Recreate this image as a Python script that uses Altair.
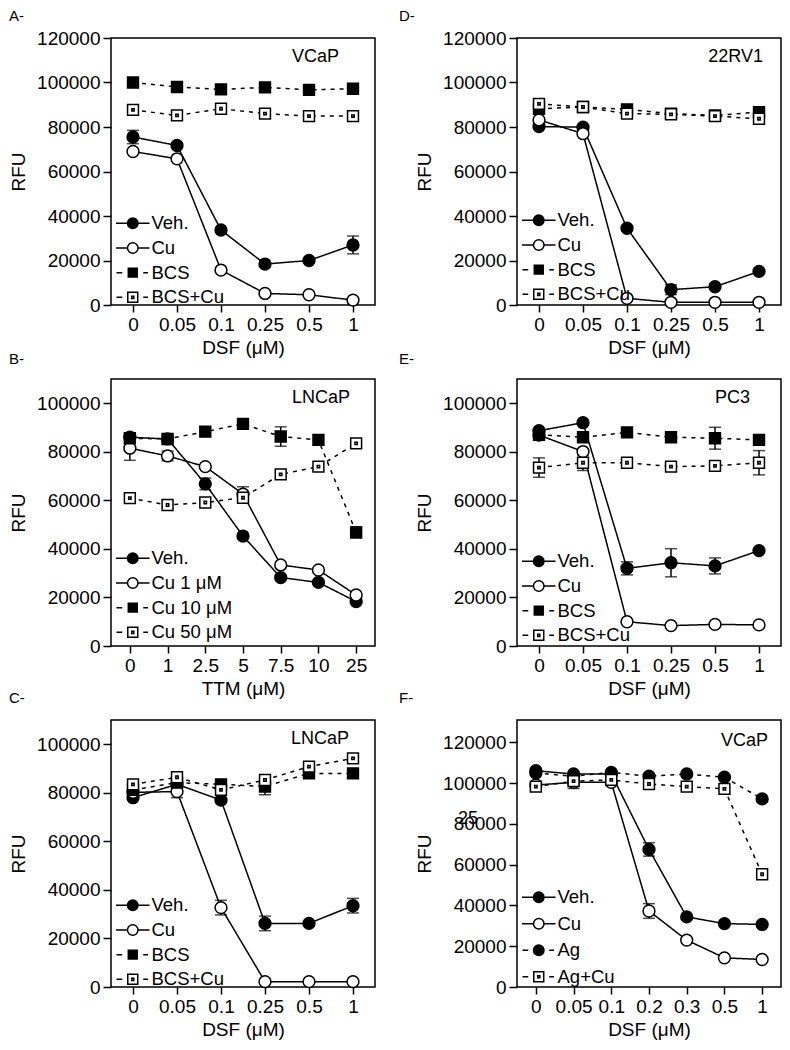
import altair as alt
import pandas as pd

FONT = "Liberation Sans"

# ---------------- data ----------------
DSF6 = ["0", "0.05", "0.1", "0.25", "0.5", "1"]
TTM7 = ["0", "1", "2.5", "5", "7.5", "10", "25"]
DSF7 = ["0", "0.05", "0.1", "0.2", "0.3", "0.5", "1"]

NAMES_BCS = ["Veh.", "Cu", "BCS", "BCS+Cu"]
NAMES_TTM = ["Veh.", "Cu 1 \u03bcM", "Cu 10 \u03bcM", "Cu 50 \u03bcM"]
NAMES_AG = ["Veh.", "Cu", "Ag", "Ag+Cu"]

# A - VCaP
A_veh = [75500, 71700, 33700, 18400, 20000, 27000]
A_cu = [69000, 65700, 15700, 5200, 4600, 2200]
A_bcs = [100000, 98000, 96900, 97800, 96700, 97200]
A_bcscu = [87700, 85200, 88200, 86000, 84900, 84900]
A_veh_err = [3000, 0, 0, 0, 0, 4000]
A_cu_err = [0, 0, 0, 0, 0, 0]
A_bcs_err = [0, 0, 0, 0, 0, 0]
A_bcscu_err = [0, 0, 0, 0, 0, 0]

# D - 22RV1
D_veh = [80200, 79900, 34500, 6900, 8200, 15100]
D_cu = [83200, 77000, 3000, 1200, 1200, 1200]
D_bcs = [88200, 89000, 87900, 86000, 85200, 86700]
D_bcscu = [90400, 89000, 86000, 85700, 84900, 83700]
D_veh_err = [0, 0, 0, 2200, 0, 0]
D_cu_err = [0, 0, 0, 0, 0, 0]
D_bcs_err = [0, 0, 0, 0, 0, 0]
D_bcscu_err = [0, 0, 0, 0, 0, 0]

# B - LNCaP, TTM
B_veh = [86000, 85300, 66800, 45300, 28200, 26200, 18300]
B_cu1 = [81500, 78300, 73900, 62600, 33400, 31300, 21000]
B_cu10 = [85600, 85300, 88300, 91500, 86300, 84900, 46800]
B_cu50 = [60900, 58100, 59100, 61100, 70700, 73900, 83500]
B_veh_err = [0, 0, 2400, 0, 0, 0, 0]
B_cu1_err = [5000, 2000, 0, 3000, 0, 0, 0]
B_cu10_err = [2000, 0, 0, 2000, 4000, 0, 2300]
B_cu50_err = [0, 0, 0, 0, 0, 0, 0]

# E - PC3
E_veh = [88700, 92000, 32000, 34300, 33000, 39300]
E_cu = [86900, 80100, 10000, 8400, 8900, 8700]
E_bcs = [87000, 86000, 88000, 86000, 85600, 84900]
E_bcscu = [73500, 75500, 75500, 73900, 74200, 75500]
E_veh_err = [0, 0, 2700, 5800, 3300, 0]
E_cu_err = [0, 0, 0, 0, 0, 0]
E_bcs_err = [0, 0, 0, 0, 4500, 0]
E_bcscu_err = [4000, 3200, 0, 0, 0, 5000]

# C - LNCaP, DSF
C_veh = [78000, 83500, 77000, 26200, 26200, 33500]
C_cu = [80200, 80500, 32700, 2200, 2200, 2200]
C_bcs = [81200, 84200, 83500, 82600, 88000, 88000]
C_bcscu = [83500, 86400, 81200, 85300, 90800, 94200]
C_veh_err = [0, 0, 0, 3000, 0, 3000]
C_cu_err = [0, 2500, 3000, 0, 0, 0]
C_bcs_err = [0, 0, 0, 3400, 0, 0]
C_bcscu_err = [0, 0, 0, 0, 0, 0]

# F - VCaP, Ag
F_veh = [106100, 104500, 104500, 67500, 34400, 31100, 30700]
F_cu = [99100, 100400, 100400, 37300, 23000, 14300, 13500]
F_ag = [105000, 103400, 105300, 103400, 104500, 102900, 92300]
F_agcu = [98300, 101000, 101600, 99600, 98300, 97200, 55300]
F_veh_err = [0, 0, 0, 3300, 0, 0, 0]
F_cu_err = [0, 3000, 0, 3600, 0, 0, 0]
F_ag_err = [0, 0, 0, 0, 0, 0, 0]
F_agcu_err = [0, 0, 0, 0, 0, 0, 0]

# ---------------- symbols ----------------
SQ = "M-0.92,-0.92H0.92V0.92H-0.92Z"
SQDOT = "M-0.92,-0.92H0.92V0.92H-0.92Z M-0.2,-0.2H0.2V0.2H-0.2Z"
CIRC_U = "M-1,0A1,1,0,1,0,1,0A1,1,0,1,0,-1,0Z"
LEG_SOLID_CIRC = "M-3.2,0H-1M1,0H3.2" + CIRC_U
LEG_DASH_CIRC = "M-3.1,0H-2M2,0H2.9" + CIRC_U
LEG_DASH_SQ = "M-3.1,0H-2M2,0H2.9M-0.85,-0.85H0.85V0.85H-0.85Z"
LEG_DASH_SQDOT = "M-3.1,0H-2M2,0H2.9M-0.95,-0.95H0.95V0.95H-0.95Z M-0.2,-0.2H0.2V0.2H-0.2Z"

KIND = {
    "fc": ("circle", "black"),
    "oc": ("circle", "white"),
    "fs": (SQ, "black"),
    "os": (SQDOT, "white"),
}
LEGPATH = {
    "fc_solid": LEG_SOLID_CIRC,
    "oc_solid": LEG_SOLID_CIRC,
    "fc_dash": LEG_DASH_CIRC,
    "fs_dash": LEG_DASH_SQ,
    "os_dash": LEG_DASH_SQDOT,
}

W, H = 264, 267


def make_panel(cats, names, vals, errs, kinds, ymax, yticks, xtitle, cell,
               cell_dx, cell_y, label, label_dx, label_off, leg_y, leg_pad=5.7):
    rows = []
    for nm, vs, es in zip(names, vals, errs):
        for i, (c, v, e) in enumerate(zip(cats, vs, es)):
            rows.append(dict(x=c, idx=i, series=nm, value=v, err=e,
                             lo=v - e, hi=v + e))
    df = pd.DataFrame(rows)
    dashes = [[1, 0], [1, 0], [4, 5], [4, 5]]
    shapes = [KIND[k][0] for k in kinds]
    fills = [KIND[k][1] for k in kinds]
    legpaths = [LEGPATH[k + ("_solid" if j < 2 else "_dash")]
                for j, k in enumerate(kinds)]

    xenc = alt.X("x:N", sort=cats, scale=alt.Scale(type="point", padding=0.5),
                 axis=alt.Axis(title=xtitle, labelAngle=0))
    yscale = alt.Scale(domain=[0, ymax], nice=False, zero=True)
    yenc = alt.Y("value:Q", scale=yscale,
                 axis=alt.Axis(title="RFU", values=yticks, format="d"))

    base = alt.Chart(df)
    lines = base.mark_line(color="black", strokeWidth=1.5).encode(
        x=xenc, y=yenc, detail="series:N", order="idx:Q",
        strokeDash=alt.StrokeDash("series:N",
                                  scale=alt.Scale(domain=names, range=dashes),
                                  legend=None),
    )
    errd = base.transform_filter("datum.err > 0")
    rule = errd.mark_rule(color="black", strokeWidth=1.5).encode(
        x=alt.X("x:N", sort=cats), y=alt.Y("lo:Q", scale=yscale), y2="hi:Q")
    cap_lo = errd.mark_tick(color="black", size=12, thickness=1.5).encode(
        x=alt.X("x:N", sort=cats), y=alt.Y("lo:Q", scale=yscale))
    cap_hi = errd.mark_tick(color="black", size=12, thickness=1.5).encode(
        x=alt.X("x:N", sort=cats), y=alt.Y("hi:Q", scale=yscale))
    pts = base.mark_point(filled=True, stroke="black", strokeWidth=1.5,
                          size=140, opacity=1, fillOpacity=1).encode(
        x=alt.X("x:N", sort=cats), y=alt.Y("value:Q", scale=yscale),
        shape=alt.Shape("series:N", scale=alt.Scale(domain=names, range=shapes),
                        legend=None),
        fill=alt.Fill("series:N", scale=alt.Scale(domain=names, range=fills),
                      legend=None),
    )
    leg = alt.Legend(orient="none", legendX=12.5, legendY=leg_y, title=None,
                     labelFont=FONT, labelFontSize=18.5, labelColor="black",
                     symbolSize=110, symbolStrokeColor="black",
                     symbolStrokeWidth=1.5, labelOffset=9.5, rowPadding=leg_pad,
                     padding=0, symbolOffset=0)
    legend_layer = base.transform_filter("false").mark_point(
        filled=True, strokeWidth=1.5, opacity=1).encode(
        shape=alt.Shape("series:N", scale=alt.Scale(domain=names, range=legpaths),
                        legend=leg),
        fill=alt.Fill("series:N", scale=alt.Scale(domain=names, range=fills),
                      legend=leg),
        stroke=alt.Stroke("series:N",
                          scale=alt.Scale(domain=names, range=["black"] * 4),
                          legend=leg),
    )
    cell_df = pd.DataFrame({"t": [cell]})
    cell_txt = alt.Chart(cell_df).mark_text(
        font=FONT, fontSize=18, align="right", baseline="alphabetic",
        color="black").encode(x=alt.value(W + cell_dx), y=alt.value(cell_y),
                              text="t:N")
    layers = [lines, rule, cap_lo, cap_hi, pts, cell_txt]
    if label == "F-":
        art = alt.Chart(pd.DataFrame({"t": ["25"]})).mark_text(
            font=FONT, fontSize=18, align="center", baseline="alphabetic",
            color="black").encode(x=alt.value(-49), y=alt.value(104), text="t:N")
        layers.append(art)
    layers.append(legend_layer)
    return alt.layer(*layers).resolve_scale(
        shape="independent", fill="independent", strokeDash="independent",
        stroke="independent"
    ).properties(
        width=W, height=H,
        title=alt.TitleParams(text=label, anchor="start", frame="group",
                              dx=label_dx, offset=label_off, fontSize=15,
                              fontWeight="normal", font=FONT, color="black"),
    )


T120 = [0, 20000, 40000, 60000, 80000, 100000, 120000]
T100 = [0, 20000, 40000, 60000, 80000, 100000]
K4 = ["fc", "oc", "fs", "os"]
KF = ["fc", "oc", "fc", "os"]
DSF_T = "DSF (\u03bcM)"
TTM_T = "TTM (\u03bcM)"

pA = make_panel(DSF6, NAMES_BCS, [A_veh, A_cu, A_bcs, A_bcscu],
                [A_veh_err, A_cu_err, A_bcs_err, A_bcscu_err], K4, 120000, T120,
                DSF_T, "VCaP", -36, 24, "A-", -102, 5, 176)
pD = make_panel(DSF6, NAMES_BCS, [D_veh, D_cu, D_bcs, D_bcscu],
                [D_veh_err, D_cu_err, D_bcs_err, D_bcscu_err], K4, 120000, T120,
                DSF_T, "22RV1", -18, 24, "D-", -118, 5, 173)
pB = make_panel(TTM7, NAMES_TTM, [B_veh, B_cu1, B_cu10, B_cu50],
                [B_veh_err, B_cu1_err, B_cu10_err, B_cu50_err], K4, 110000, T100,
                TTM_T, "LNCaP", -25, 24, "B-", -102, 12, 170)
pE = make_panel(DSF6, NAMES_BCS, [E_veh, E_cu, E_bcs, E_bcscu],
                [E_veh_err, E_cu_err, E_bcs_err, E_bcscu_err], K4, 110000, T100,
                DSF_T, "PC3", -31, 24, "E-", -118, 12, 173)
pC = make_panel(DSF6, NAMES_BCS, [C_veh, C_cu, C_bcs, C_bcscu],
                [C_veh_err, C_cu_err, C_bcs_err, C_bcscu_err], K4, 110000, T100,
                DSF_T, "LNCaP", -26, 24, "C-", -102, 14, 176)
pF = make_panel(DSF7, NAMES_AG, [F_veh, F_cu, F_ag, F_agcu],
                [F_veh_err, F_cu_err, F_ag_err, F_agcu_err], KF, 131000, T120,
                DSF_T, "VCaP", -13, 26, "F-", -118, 14, 168, 7.5)

chart = alt.concat(pA, pD, pB, pE, pC, pF, columns=2,
                   spacing={"row": 74, "column": 142}, bounds="flush",
                   padding=0, background="white").configure_view(
    stroke="black", strokeWidth=1.5
).configure_axis(
    labelFont=FONT, labelFontSize=19, labelColor="black",
    titleFont=FONT, titleFontSize=19, titleFontWeight="normal", titleColor="black",
    tickColor="black", tickWidth=1.5, domain=False, grid=False,
    labelOverlap=False,
).configure_axisY(
    tickSize=8, labelPadding=3, titlePadding=8,
).configure_axisX(
    tickSize=7, labelPadding=3, titlePadding=4,
)

chart.save("out.html", embed_options={"renderer": "svg", "actions": False})
